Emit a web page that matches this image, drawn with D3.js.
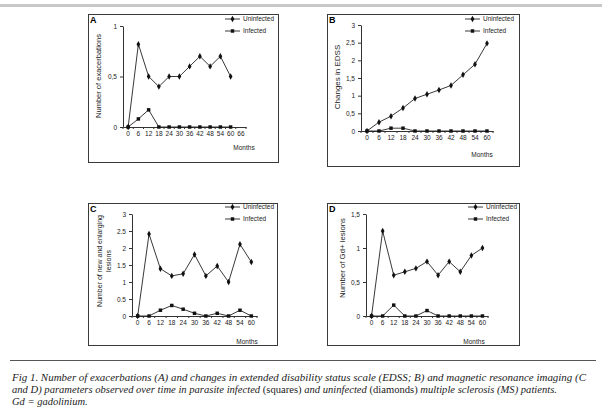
<!DOCTYPE html>
<html><head><meta charset="utf-8">
<script src="https://cdn.jsdelivr.net/npm/d3@7"></script>
<style>body{margin:0;background:#fff}svg{display:block}</style>
</head><body>
<svg id="c" width="602" height="413"></svg>
<script>
// ---- data ----
const monthsA = ["0","6","12","18","24","30","36","42","48","54","60","66"];
const months = ["0","6","12","18","24","30","36","42","48","54","60"];
const exacerbUninfected = [0,0.82,0.5,0.4,0.5,0.5,0.6,0.7,0.6,0.7,0.5];
const exacerbInfected   = [0,0.08,0.17,0,0,0,0,0,0,0,0];
const edssUninfected = [0,0.25,0.42,0.65,0.92,1.04,1.16,1.29,1.59,1.89,2.48];
const edssInfected   = [0,0,0.08,0.08,0,0,0,0,0,0,0];
const newLesUninfected = [0,2.41,1.39,1.18,1.24,1.81,1.18,1.47,1.0,2.11,1.59];
const newLesInfected   = [0,0,0.17,0.31,0.2,0.08,0,0.08,0,0.17,0];
const gdUninfected = [0,1.25,0.6,0.65,0.7,0.8,0.6,0.8,0.65,0.89,1.0];
const gdInfected   = [0,0,0.16,0,0,0.08,0,0,0,0,0];
const ticksA = [0,0.5,1], ticksB=[0,0.5,1,1.5,2,2.5,3], ticksC=[0,0.5,1,1.5,2,2.5,3], ticksD=[0,0.5,1,1.5];
const legendLabels = ["Uninfected","Infected"];

const svg = d3.select("#c");
const comma = d => String(d).replace(".", ",");
const dot = d => String(d);

svg.append("rect").attr("x",0).attr("y",4).attr("width",602).attr("height",3).attr("fill","#c8c8c8");

const panels = [
  {letter:"A", box:[88,14,278,162], cats:monthsA, u:exacerbUninfected, i:exacerbInfected, ticks:ticksA, max:1, fmt:comma,
   ax:[123,246], ay:[127,26], title:["Number of exacerbations"], tx:101, ty:76, tfs:7.5, months:[244,150], leg:[225,19]},
  {letter:"B", box:[327,14,519,166], cats:months, u:edssUninfected, i:edssInfected, ticks:ticksB, max:3, fmt:comma,
   ax:[361,493], ay:[131,25], title:["Changes in EDSS"], tx:340, ty:77, tfs:8, months:[482,157], leg:[465,19]},
  {letter:"C", box:[88,203,277,345], cats:months, u:newLesUninfected, i:newLesInfected, ticks:ticksC, max:3, fmt:dot,
   ax:[132,257], ay:[316,214], title:["Number of new and enlarging","lesions"], tx:102, ty:261, tfs:7, months:[247,344], leg:[225,207]},
  {letter:"D", box:[327,203,519,345], cats:months, u:gdUninfected, i:gdInfected, ticks:ticksD, max:1.5, fmt:comma,
   ax:[366,488], ay:[316,214], title:["Number of Gd+ lesions"], tx:345, ty:258, tfs:7.8, months:[474,344], leg:[468,207]}
];

const diamond = d3.symbol().type(d3.symbolDiamond).size(12);
const square = d3.symbol().type(d3.symbolSquare).size(12);

panels.forEach(p => {
  const g = svg.append("g");
  const [bx0,by0,bx1,by1] = p.box;
  g.append("rect").attr("x",bx0+0.5).attr("y",by0+0.5).attr("width",bx1-bx0).attr("height",by1-by0)
    .attr("fill","none").attr("stroke","#3a3a3a").attr("stroke-width",1);
  g.append("text").attr("x",bx0+2).attr("y",by0+9).text(p.letter)
    .attr("font-family","Liberation Sans, Arial, sans-serif").attr("font-weight","bold").attr("font-size",9);

  const x = d3.scaleBand().domain(p.cats).range(p.ax);
  const y = d3.scaleLinear().domain([0,p.max]).range(p.ay);

  // y axis
  const ya = g.append("g").attr("transform",`translate(${p.ax[0]},0)`)
    .call(d3.axisLeft(y).tickValues(p.ticks).tickFormat(p.fmt).tickSize(3).tickSizeOuter(0));
  ya.selectAll("text").attr("font-family","Liberation Sans, Arial, sans-serif").attr("font-size",6.5).attr("fill","#222").attr("x",-6);
  ya.select(".domain").attr("stroke","#333");
  ya.selectAll(".tick line").attr("stroke","#333");

  // x axis
  const xa = g.append("g").attr("transform",`translate(0,${p.ay[0]})`)
    .call(d3.axisBottom(x).tickSize(0).tickSizeOuter(0));
  xa.selectAll("text").attr("font-family","Liberation Sans, Arial, sans-serif").attr("font-size",6.5).attr("fill","#222").attr("dy","0.9em");
  xa.select(".domain").attr("stroke","#333");
  const bounds = p.cats.map(c => x(c)).concat([p.ax[1]]);
  g.append("g").selectAll("line").data(bounds).join("line")
    .attr("x1",d=>d).attr("x2",d=>d).attr("y1",p.ay[0]).attr("y2",p.ay[0]+2).attr("stroke","#333");

  g.append("text").attr("x",p.months[0]).attr("y",p.months[1]).attr("text-anchor","middle")
    .attr("font-family","Liberation Sans, Arial, sans-serif").attr("font-size",6.5).attr("fill","#222").text("Months");

  // y title
  const tt = g.append("text").attr("transform",`translate(${p.tx},${p.ty}) rotate(-90)`).attr("text-anchor","middle")
    .attr("font-family","Liberation Sans, Arial, sans-serif").attr("font-size",p.tfs).attr("fill","#222");
  p.title.forEach((t,k)=> tt.append("tspan").attr("x",0).attr("dy",k?9:0).text(t));

  const line = d3.line().x((d,k)=>x(p.cats[k])+x.bandwidth()/2).y(d=>y(d));
  [[p.u,diamond],[p.i,square]].forEach(([vals,sym]) => {
    g.append("path").attr("d",line(vals)).attr("fill","none").attr("stroke","#222").attr("stroke-width",0.9);
    g.append("g").selectAll("path").data(vals).join("path")
      .attr("transform",(d,k)=>`translate(${x(p.cats[k])+x.bandwidth()/2},${y(d)})`)
      .attr("d",sym).attr("fill","#111");
  });

  // legend
  legendLabels.forEach((lab,k) => {
    const ly = p.leg[1] + k*12;
    g.append("line").attr("x1",p.leg[0]).attr("x2",p.leg[0]+15).attr("y1",ly).attr("y2",ly).attr("stroke","#222").attr("stroke-width",0.9);
    g.append("path").attr("transform",`translate(${p.leg[0]+7.5},${ly})`).attr("d",k?square:diamond).attr("fill","#111");
    g.append("text").attr("x",p.leg[0]+18).attr("y",ly+2.3).text(lab)
      .attr("font-family","Liberation Sans, Arial, sans-serif").attr("font-size",6.5).attr("fill","#222");
  });
});

// separator and caption
svg.append("line").attr("x1",10).attr("x2",596).attr("y1",360.5).attr("y2",360.5).attr("stroke","#555").attr("stroke-width",1);
const capFont = "Liberation Serif, Times New Roman, serif";
const cap = [
  {y:381, len:574, parts:[["Fig 1. Number of exacerbations (A) and changes in extended disability status scale (EDSS; B) and magnetic resonance imaging (C",true]]},
  {y:393, len:545, parts:[["and D) parameters observed over time in parasite infected ",true],["(squares) ",false],["and uninfected ",true],["(diamonds) ",false],["multiple sclerosis (MS) patients.",true]]},
  {y:405, len:null, parts:[["Gd = gadolinium.",true]]}
];
cap.forEach(l => {
  const t = svg.append("text").attr("x",12).attr("y",l.y).attr("font-family",capFont).attr("font-size",10.5).attr("fill","#222");
  if (l.len) t.attr("textLength",l.len).attr("lengthAdjust","spacingAndGlyphs");
  l.parts.forEach(([s,it]) => t.append("tspan").attr("font-style",it?"italic":"normal").text(s));
});
</script>
</body></html>
